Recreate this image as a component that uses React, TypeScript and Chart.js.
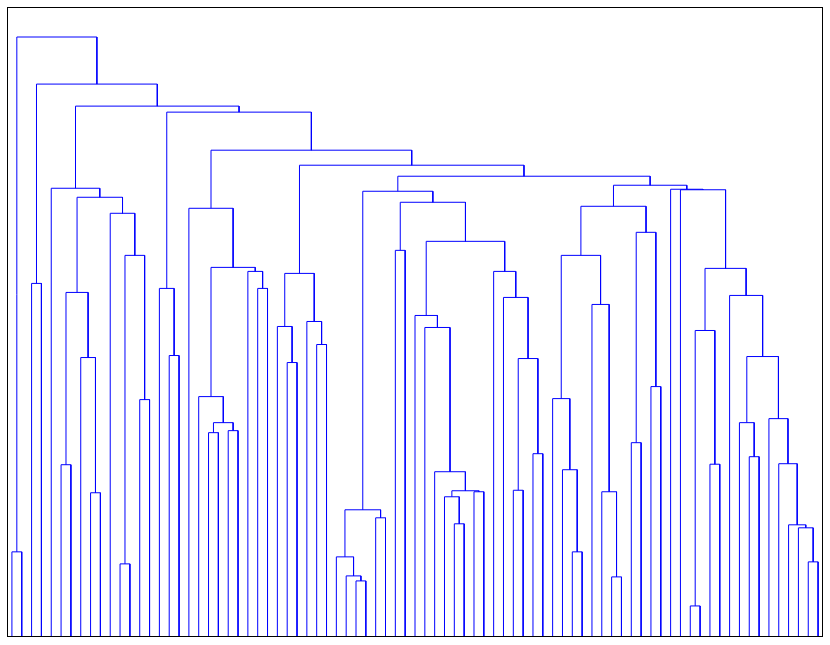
import React, { useEffect, useRef } from "react";
import { Chart, registerables } from "chart.js";

Chart.register(...registerables);

// Number of leaves (shown in dendrogram order, left to right)
const leafCount = 83;

// Linkage table: leaves are 1..83, merged clusters are numbered 84, 85, ... in row order
const mergeLeft: number[] = [
  1, 3, 6, 9, 8, 86, 12, 14, 90, 11, 89, 5,
  17, 16, 21, 23, 98, 20, 26, 25, 101, 19,
  29, 28, 32, 31, 107,
  36, 35, 34, 38, 113,
  40, 46, 45, 48, 118, 44, 43, 42,
  52, 54, 124, 51, 50, 123, 116, 115,
  58, 57, 56, 62, 61, 60, 134, 64, 66, 139, 138,
  70, 72, 143, 76, 75, 82, 81, 80, 79, 78, 147, 74, 145, 69, 68,
  142, 131, 110, 105, 97, 95, 85, 84,
];
const mergeRight: number[] = [
  2, 4, 7, 10, 87, 88, 13, 15, 91, 92, 93, 94,
  18, 96, 22, 24, 99, 100, 27, 102, 103, 104,
  30, 106, 33, 108, 109,
  37, 111, 112, 39, 114,
  41, 47, 117, 49, 119, 120, 121, 122,
  53, 55, 125, 126, 127, 128, 129, 130,
  59, 132, 133, 63, 135, 136, 137, 65, 67, 140, 141,
  71, 73, 144, 77, 146, 83, 148, 149, 150, 151, 152, 153, 154, 155, 156,
  157, 158, 159, 160, 161, 162, 163, 164,
];
const mergeHeight: number[] = [
  0.85, 3.53, 1.72, 1.44, 2.79, 3.44, 0.73, 2.37, 3.81, 4.23, 4.39, 4.48,
  2.81, 3.48, 2.04, 2.06, 2.14, 2.40, 3.48, 3.65, 3.69, 4.28,
  2.74, 3.10, 2.92, 3.15, 3.63,
  0.56, 0.61, 0.80, 1.19, 1.27,
  3.86, 1.13, 1.40, 1.45, 1.46, 1.65, 3.09, 3.21,
  1.465, 1.83, 2.78, 3.39, 3.65, 3.95, 4.34, 4.45,
  0.85, 1.67, 2.38, 0.60, 1.45, 3.32, 3.81, 1.94, 2.50, 4.04, 4.30,
  0.31, 1.725, 3.06, 1.80, 2.14, 0.75, 1.09, 1.12, 1.73, 2.18, 2.80, 3.41, 3.68, 4.465, 4.47,
  4.51, 4.60, 4.71, 4.86, 5.24, 5.30, 5.52, 5.99,
];

export default function App() {
  const canvasRef = useRef<HTMLCanvasElement | null>(null);

  useEffect(() => {
    const canvas = canvasRef.current;
    if (!canvas) return;

    // positions and heights of every cluster (leaves at their order index, height 0)
    const xs: number[] = [];
    const hs: number[] = [];
    for (let i = 1; i <= leafCount; i++) {
      xs[i] = i;
      hs[i] = 0;
    }
    const datasets: any[] = [];
    mergeLeft.forEach((a, k) => {
      const b = mergeRight[k];
      const h = mergeHeight[k];
      const id = leafCount + 1 + k;
      xs[id] = (xs[a] + xs[b]) / 2;
      hs[id] = h;
      datasets.push({
        data: [
          { x: xs[a], y: hs[a] },
          { x: xs[a], y: h },
          { x: xs[b], y: h },
          { x: xs[b], y: hs[b] },
        ],
        showLine: true,
        borderColor: "#0000ff",
        backgroundColor: "#0000ff",
        borderWidth: 1,
        pointRadius: 0,
        pointHoverRadius: 0,
        fill: false,
        tension: 0,
      });
    });
    const yMax = Math.max(...mergeHeight) * 1.05;

    const framePlugin = {
      id: "frame",
      afterDraw(chart: any) {
        const { ctx, chartArea } = chart;
        ctx.save();
        ctx.strokeStyle = "#000000";
        ctx.lineWidth = 1;
        ctx.strokeRect(
          chartArea.left + 0.5,
          chartArea.top + 0.5,
          chartArea.right - chartArea.left - 1,
          chartArea.bottom - chartArea.top - 1
        );
        ctx.restore();
      },
    };

    const chart = new Chart(canvas, {
      type: "scatter",
      data: { datasets },
      options: {
        animation: false,
        responsive: false,
        maintainAspectRatio: false,
        layout: { padding: { left: 7, top: 7, right: 7, bottom: 8 } },
        scales: {
          x: { type: "linear", min: 0.5, max: leafCount + 0.5, display: false },
          y: { type: "linear", min: 0, max: yMax, display: false },
        },
        plugins: {
          legend: { display: false },
          tooltip: { enabled: false },
        },
        events: [],
      },
      plugins: [framePlugin],
    });
    return () => chart.destroy();
  }, []);

  return (
    <div
      style={{
        position: "absolute",
        left: 0,
        top: 0,
        width: 830,
        height: 645,
        background: "#ffffff",
      }}
    >
      <canvas ref={canvasRef} width={830} height={645} />
    </div>
  );
}
